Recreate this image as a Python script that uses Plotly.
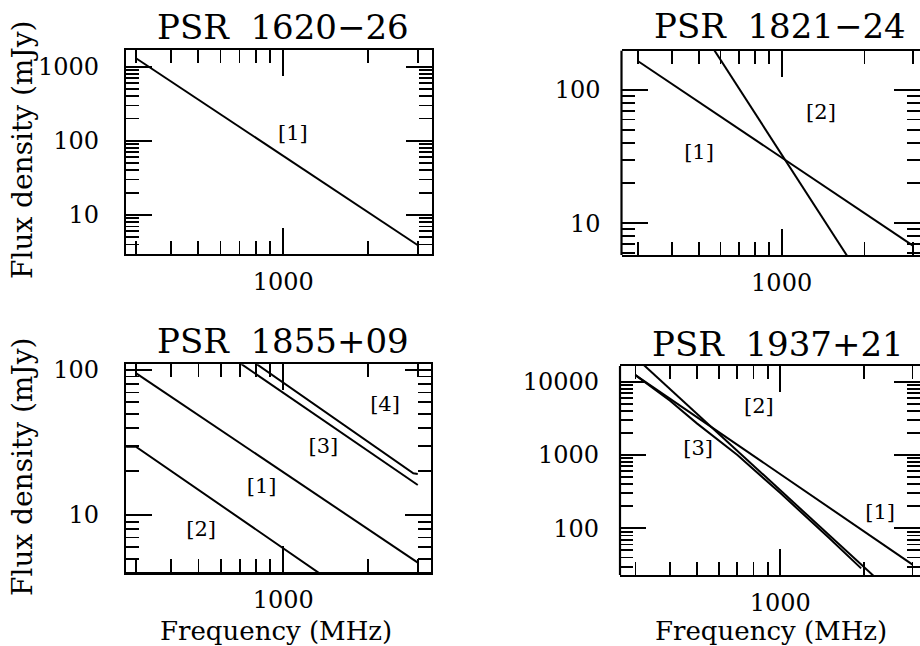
import plotly.graph_objects as go

# ---------------- data ----------------
# PSR 1620-26
p1_freq = [300, 3000]
p1_s1 = [1310, 3.9]
# PSR 1821-24
p2_freq = [300, 3000]
p2_s1 = [165, 6.8]
p2_s2 = [1542, 0.98]
# PSR 1855+09
p3_freq = [300, 3000]
p3_s1 = [95, 4.7]
p3_s2_freq = [277, 300, 3000]
p3_s2 = [29.6, 29.6, 1.35]
p3_s3 = [346, 16.1]
p3_s4_freq = [300, 2893, 3000]
p3_s4 = [417, 19.4, 19.2]
# PSR 1937+21
p4_freq = [300, 3000]
p4_s1 = [12300, 32]
p4_s2 = [21500, 7.3]
p4_s3_freq = [300, 400, 500, 700, 1000, 1500, 1957]
p4_s3 = [12300, 5500, 2700, 1000, 302, 74, 28.4]

titles = ["PSR 1620-26", "PSR 1821-24", "PSR 1855+09", "PSR 1937+21"]

# label texts and positions (data coords)
p1_lab = (["[1]"], [1082], [120])
p2_lab = (["[1]", "[2]"], [501, 1390], [33.5, 66.9])
p3_lab = (["[4]", "[3]", "[1]", "[2]"], [2296, 1387, 838, 511], [56.5, 29.1, 15.3, 7.8])
p4_lab = (["[2]", "[3]", "[1]"], [837, 505, 2292], [4480, 1196, 160])

x_major = [1000]
x_minor = [200, 300, 400, 500, 600, 700, 800, 900, 2000, 3000, 4000]
y_major_1 = [10, 100, 1000]
y_major_2 = [10, 100]
y_major_3 = [10, 100]
y_major_4 = [100, 1000, 10000]
y_minor = [m * 10 ** e for e in range(0, 5) for m in range(2, 10)]

FONT = "DejaVu Serif"
W, H = 920, 646

fig = go.Figure()

def line(x, y, xa, ya):
    fig.add_trace(go.Scatter(x=x, y=y, mode="lines", xaxis=xa, yaxis=ya,
                             line=dict(color="black", width=2), hoverinfo="skip",
                             showlegend=False))

def labels(lab, xa, ya):
    fig.add_trace(go.Scatter(x=lab[1], y=lab[2], text=lab[0], mode="text", xaxis=xa, yaxis=ya,
                             textfont=dict(family=FONT, size=21, color="black"),
                             showlegend=False, hoverinfo="skip"))

line(p1_freq, p1_s1, "x", "y")
labels(p1_lab, "x", "y")
line(p2_freq, p2_s1, "x2", "y2")
line(p2_freq, p2_s2, "x2", "y2")
labels(p2_lab, "x2", "y2")
line(p3_freq, p3_s1, "x3", "y3")
line(p3_s2_freq, p3_s2, "x3", "y3")
line(p3_freq, p3_s3, "x3", "y3")
line(p3_s4_freq, p3_s4, "x3", "y3")
labels(p3_lab, "x3", "y3")
line(p4_freq, p4_s1, "x4", "y4")
line(p4_freq, p4_s2, "x4", "y4")
line(p4_s3_freq, p4_s3, "x4", "y4")
labels(p4_lab, "x4", "y4")

def px_x(a, b):
    return [a / W, b / W]

def px_y(top, bottom):
    return [1 - bottom / H, 1 - top / H]

def axis(domain, rng, anchor, major, is_x, showline=True):
    return dict(type="log", domain=domain, range=rng, anchor=anchor, automargin=False,
                showline=showline, linecolor="black", linewidth=2.2,
                mirror="allticks", ticks="inside", ticklen=26, tickwidth=1.8,
                tickcolor="black", showgrid=False, zeroline=False,
                tickmode="array", tickvals=major, ticktext=[str(v) for v in major],
                tickfont=dict(family=FONT, size=24, color="black"),
                ticklabelstandoff=(5 if is_x else 20),
                minor=dict(ticks="inside", ticklen=13, tickwidth=1.8, tickcolor="black",
                           tickmode="array", tickvals=(x_minor if is_x else y_minor),
                           showgrid=False),
                fixedrange=True)

fig.update_layout(
    width=W, height=H, margin=dict(l=0, r=0, t=0, b=0, pad=0, autoexpand=False),
    paper_bgcolor="white", plot_bgcolor="white", showlegend=False,
    xaxis=axis(px_x(126, 431.5), [2.443, 3.5255], "y", x_major, True),
    yaxis=axis(px_y(50, 254), [0.473, 3.225], "x", y_major_1, False),
    xaxis2=axis(px_x(621.5, 920), [2.418, 3.503], "y2", x_major, True),
    yaxis2=axis(px_y(50.7, 255), [0.762, 2.295], "x2", y_major_2, False, showline=False),
    xaxis3=axis(px_x(126, 430.7), [2.442, 3.523], "y3", x_major, True),
    yaxis3=axis(px_y(364.3, 572.3), [0.605, 2.039], "x3", y_major_3, False),
    xaxis4=axis(px_x(620, 920), [2.4215, 3.504], "y4", x_major, True),
    yaxis4=axis(px_y(366, 575), [1.363, 4.214], "x4", y_major_4, False, showline=False),
)

# left border lines for right-hand panels (their right edge lies beyond the page)
for xa in ["x2", "x4"]:
    fig.add_shape(type="line", xref=xa + " domain", yref=xa.replace("x", "y") + " domain",
                  x0=0, x1=0, y0=0, y1=1, line=dict(color="black", width=2.2))

ann = []
title_pos = [(283, 27), (780, 26), (283, 341), (778, 344)]
for t, (x, y) in zip(titles, title_pos):
    ann.append(dict(text=t.replace(" ", "\u00a0\u00a0").replace("-", "\u2212"), x=x / W, y=1 - y / H,
                    xref="paper", yref="paper", showarrow=False,
                    font=dict(family=FONT, size=34, color="black"), xanchor="center", yanchor="middle"))
for (x, y) in [(22, 150), (22, 467)]:
    ann.append(dict(text="Flux density (mJy)", x=x / W, y=1 - y / H, xref="paper", yref="paper",
                    showarrow=False, textangle=-90,
                    font=dict(family=FONT, size=28, color="black"), xanchor="center", yanchor="middle"))
for (x, y) in [(276, 631), (771, 631)]:
    ann.append(dict(text="Frequency (MHz)", x=x / W, y=1 - y / H, xref="paper", yref="paper",
                    showarrow=False, font=dict(family=FONT, size=26, color="black"),
                    xanchor="center", yanchor="middle"))
fig.update_layout(annotations=ann)

fig.write_html("out.html",
               config={"displayModeBar": False, "staticPlot": True},
               post_script="document.body.style.margin='0';document.body.style.overflow='hidden';")
